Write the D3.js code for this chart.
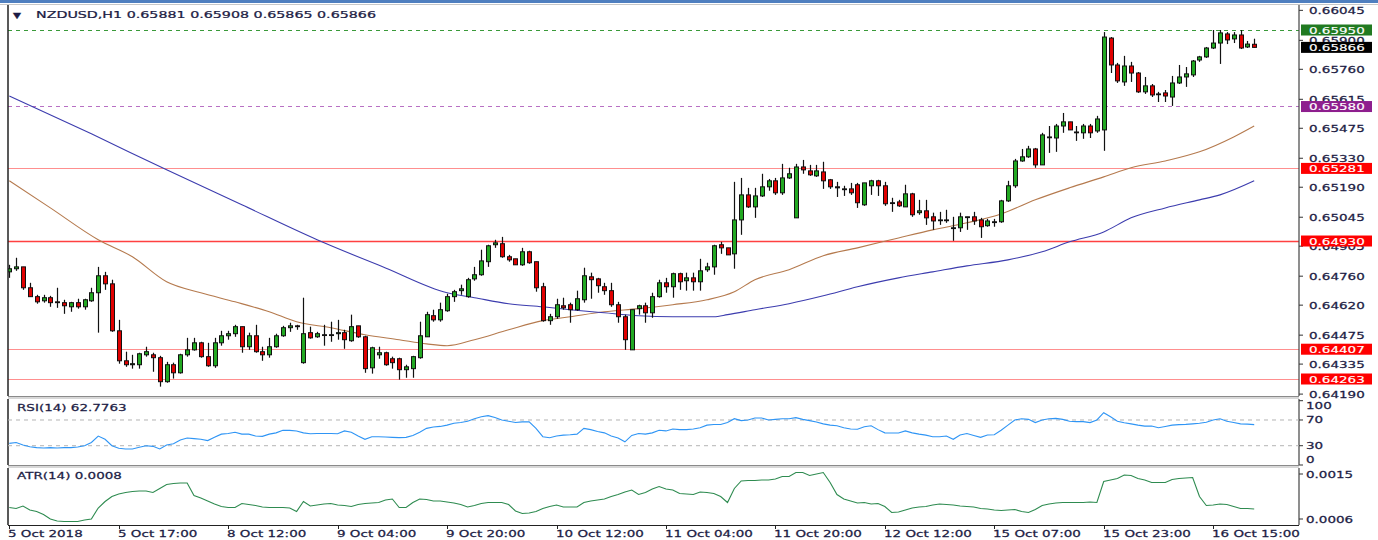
<!DOCTYPE html>
<html>
<head>
<meta charset="utf-8">
<script src="https://cdn.jsdelivr.net/npm/d3@7"></script>
<style>
  body { margin: 0; background: #fff; }
  svg text { font-family: "DejaVu Sans", Verdana, sans-serif; font-size: 9.5px; fill: #1c1c44; stroke: #1c1c44; stroke-width: 0.25px; }
</style>
</head>
<body>
<div id="chart"></div>
<script>
// NZDUSD H1 candles, bar 0 = 5 Oct 2018 01:00
const opens = [
  0.64781,0.64796,0.64805,0.64704,0.64661,0.64641,0.64656,0.64636,0.64632,0.64612,
  0.64632,0.64612,0.64641,0.64680,0.64762,0.64723,0.64496,0.64351,0.64332,0.64332,
  0.64380,0.64380,0.64366,0.64250,0.64332,0.64293,0.64380,0.64404,0.64438,0.64371,
  0.64327,0.64438,0.64472,0.64482,0.64516,0.64419,0.64472,0.64395,0.64380,0.64419,
  0.64472,0.64511,0.64520,0.64342,0.64487,0.64467,0.64477,0.64477,0.64482,0.64487,
  0.64448,0.64520,0.64467,0.64317,0.64380,0.64390,0.64361,0.64361,0.64308,0.64313,
  0.64366,0.64467,0.64569,0.64549,0.64593,0.64661,0.64690,0.64661,0.64747,0.64767,
  0.64830,0.64912,0.64917,0.64854,0.64844,0.64815,0.64878,0.64830,0.64709,0.64545,
  0.64564,0.64617,0.64622,0.64598,0.64646,0.64757,0.64747,0.64709,0.64690,0.64622,
  0.64564,0.64404,0.64603,0.64617,0.64583,0.64661,0.64728,0.64709,0.64772,0.64738,
  0.64752,0.64733,0.64791,0.64805,0.64912,0.64897,0.64868,0.65032,0.65153,0.65095,
  0.65148,0.65192,0.65221,0.65163,0.65235,0.65042,0.65288,0.65269,0.65245,0.65264,
  0.65226,0.65192,0.65182,0.65182,0.65202,0.65105,0.65197,0.65221,0.65197,0.65115,
  0.65119,0.65095,0.65158,0.65067,0.65076,0.65047,0.65032,0.65032,0.64994,0.64994,
  0.65047,0.65047,0.65032,0.65004,0.65023,0.65023,0.65124,0.65197,0.65317,0.65337,
  0.65375,0.65298,0.65433,0.65428,0.65486,0.65506,0.65457,0.65453,0.65486,0.65462,
  0.65467,0.65911,0.65781,0.65699,0.65776,0.65742,0.65651,0.65680,0.65641,0.65646,
  0.65626,0.65694,0.65723,0.65733,0.65805,0.65820,0.65863,0.65887,0.65931,0.65907,
  0.65926,0.65868,0.65881
];
const highs = [
  0.64815,0.64849,0.64805,0.64728,0.64670,0.64670,0.64665,0.64704,0.64646,0.64636,
  0.64651,0.64651,0.64704,0.64805,0.64781,0.64743,0.64549,0.64395,0.64380,0.64390,
  0.64419,0.64390,0.64375,0.64346,0.64342,0.64385,0.64462,0.64462,0.64443,0.64438,
  0.64462,0.64496,0.64496,0.64525,0.64516,0.64487,0.64525,0.64419,0.64462,0.64482,
  0.64520,0.64535,0.64525,0.64656,0.64516,0.64491,0.64525,0.64540,0.64549,0.64501,
  0.64574,0.64520,0.64472,0.64419,0.64419,0.64395,0.64371,0.64366,0.64332,0.64375,
  0.64540,0.64588,0.64598,0.64632,0.64675,0.64694,0.64719,0.64752,0.64805,0.64888,
  0.64912,0.64936,0.64950,0.64863,0.64844,0.64897,0.64883,0.64830,0.64728,0.64578,
  0.64651,0.64656,0.64632,0.64690,0.64801,0.64777,0.64752,0.64728,0.64728,0.64636,
  0.64574,0.64598,0.64622,0.64632,0.64680,0.64743,0.64752,0.64777,0.64777,0.64777,
  0.64777,0.64844,0.64825,0.64912,0.64926,0.64897,0.65216,0.65235,0.65187,0.65187,
  0.65255,0.65230,0.65235,0.65303,0.65284,0.65303,0.65322,0.65298,0.65298,0.65313,
  0.65230,0.65216,0.65197,0.65211,0.65211,0.65211,0.65226,0.65226,0.65216,0.65139,
  0.65129,0.65202,0.65163,0.65129,0.65129,0.65067,0.65071,0.65081,0.65047,0.65067,
  0.65047,0.65071,0.65042,0.65037,0.65037,0.65129,0.65221,0.65327,0.65375,0.65390,
  0.65380,0.65453,0.65486,0.65496,0.65549,0.65506,0.65486,0.65496,0.65496,0.65535,
  0.65940,0.65916,0.65791,0.65825,0.65796,0.65747,0.65723,0.65689,0.65651,0.65660,
  0.65728,0.65781,0.65771,0.65805,0.65825,0.65868,0.65950,0.65950,0.65940,0.65940,
  0.65950,0.65897,0.65908
];
const lows = [
  0.64752,0.64786,0.64694,0.64661,0.64627,0.64632,0.64612,0.64607,0.64578,0.64588,
  0.64603,0.64598,0.64636,0.64487,0.64694,0.64491,0.64337,0.64322,0.64313,0.64313,
  0.64371,0.64298,0.64226,0.64245,0.64265,0.64289,0.64371,0.64400,0.64366,0.64322,
  0.64317,0.64424,0.64453,0.64467,0.64390,0.64404,0.64390,0.64351,0.64366,0.64414,
  0.64467,0.64491,0.64501,0.64337,0.64458,0.64462,0.64424,0.64443,0.64453,0.64409,
  0.64443,0.64462,0.64293,0.64289,0.64361,0.64327,0.64313,0.64260,0.64269,0.64269,
  0.64361,0.64467,0.64540,0.64540,0.64588,0.64636,0.64670,0.64656,0.64738,0.64762,
  0.64805,0.64897,0.64849,0.64830,0.64815,0.64810,0.64820,0.64685,0.64540,0.64525,
  0.64554,0.64598,0.64535,0.64593,0.64632,0.64651,0.64680,0.64670,0.64612,0.64535,
  0.64404,0.64404,0.64574,0.64535,0.64559,0.64656,0.64680,0.64656,0.64694,0.64690,
  0.64690,0.64690,0.64781,0.64767,0.64868,0.64863,0.64796,0.64960,0.65090,0.65042,
  0.65143,0.65173,0.65153,0.65153,0.65230,0.65042,0.65255,0.65245,0.65240,0.65182,
  0.65182,0.65143,0.65148,0.65153,0.65090,0.65100,0.65153,0.65148,0.65100,0.65071,
  0.65095,0.65095,0.65047,0.65057,0.65008,0.64984,0.65008,0.65018,0.64931,0.64974,
  0.64984,0.65008,0.64945,0.64999,0.64999,0.65018,0.65119,0.65187,0.65313,0.65332,
  0.65284,0.65298,0.65356,0.65361,0.65453,0.65467,0.65414,0.65424,0.65428,0.65453,
  0.65366,0.65742,0.65694,0.65680,0.65699,0.65646,0.65641,0.65626,0.65602,0.65602,
  0.65583,0.65689,0.65675,0.65723,0.65796,0.65815,0.65858,0.65786,0.65882,0.65887,
  0.65858,0.65863,0.65865
];
const closes = [
  0.64796,0.64805,0.64704,0.64661,0.64636,0.64656,0.64632,0.64632,0.64617,0.64632,
  0.64612,0.64646,0.64680,0.64762,0.64723,0.64496,0.64351,0.64332,0.64337,0.64385,
  0.64395,0.64366,0.64250,0.64332,0.64293,0.64380,0.64404,0.64438,0.64371,0.64327,
  0.64438,0.64472,0.64482,0.64516,0.64419,0.64472,0.64395,0.64380,0.64419,0.64472,
  0.64511,0.64520,0.64516,0.64482,0.64462,0.64482,0.64477,0.64477,0.64487,0.64453,
  0.64516,0.64467,0.64313,0.64414,0.64390,0.64332,0.64342,0.64308,0.64322,0.64371,
  0.64472,0.64574,0.64549,0.64598,0.64661,0.64685,0.64699,0.64743,0.64767,0.64834,
  0.64907,0.64921,0.64854,0.64839,0.64815,0.64878,0.64825,0.64704,0.64545,0.64564,
  0.64622,0.64607,0.64598,0.64651,0.64762,0.64743,0.64714,0.64690,0.64622,0.64564,
  0.64453,0.64598,0.64617,0.64583,0.64661,0.64728,0.64709,0.64772,0.64733,0.64752,
  0.64733,0.64786,0.64805,0.64907,0.64897,0.64863,0.65032,0.65153,0.65095,0.65148,
  0.65192,0.65221,0.65163,0.65235,0.65255,0.65288,0.65274,0.65250,0.65269,0.65221,
  0.65192,0.65187,0.65182,0.65163,0.65115,0.65211,0.65221,0.65197,0.65110,0.65115,
  0.65100,0.65158,0.65057,0.65076,0.65042,0.65027,0.65032,0.65032,0.64994,0.65047,
  0.65047,0.65027,0.64999,0.65027,0.65023,0.65124,0.65197,0.65317,0.65337,0.65375,
  0.65298,0.65443,0.65433,0.65486,0.65506,0.65467,0.65457,0.65486,0.65453,0.65520,
  0.65916,0.65781,0.65704,0.65776,0.65742,0.65651,0.65680,0.65636,0.65641,0.65631,
  0.65694,0.65723,0.65738,0.65800,0.65820,0.65863,0.65887,0.65936,0.65902,0.65926,
  0.65863,0.65882,0.65866
];

const rsiValues = [
  33.7,35,31,28.5,27,26.5,27,26.5,27,27,
  28,30,35,45,40,30,26,25,25,27.5,
  30,29,25,31,33,39,42,41,40,38,
  43,48,49,51,48,48,45,44.6,48,50,
  53.9,53.9,53,50,48.7,49,49,49,48.7,53,
  51,45,40,44,44,43.5,43,42.5,43,46,
  51,57,59,60,62,65,66,68,72,75,
  76.7,74,70,68,66,67,67,57,44,42.5,
  45,46.5,47,48,57,55,52,50,45,42,
  36,46,49,48,50,54,53,56,55,55,
  56,58,62,63,63,66,72,69,70,73,
  73,70,71,72,72,73.6,71,69,67,64,
  62,61,58,56,55.5,59.6,61,55,50,49.8,
  49.8,53,50,48,46.5,44,44,45,40,46.7,
  49,46,43,46.7,47,54,62,70,72,71,
  66,70,72,72.5,71,68,67.5,67.4,66,70,
  81.4,75,68,65.8,64,62,60.5,60.7,58,60,
  62,62.8,63.2,64,65,66.5,70,72,68,66,
  64,63.5,62.7763
];
const atrValues = [
  0.00083,0.00081,0.00086,0.00078,0.00075,0.00069,0.00060,0.00056,0.00055,0.00055,
  0.00055,0.00058,0.00060,0.00082,0.00095,0.00105,0.00110,0.00113,0.00115,0.00116,
  0.00116,0.00113,0.00121,0.00129,0.00131,0.00132,0.00132,0.00107,0.00102,0.00096,
  0.00090,0.00085,0.00083,0.00083,0.00091,0.00089,0.00087,0.00084,0.00083,0.00083,
  0.00083,0.00082,0.00075,0.00095,0.00086,0.00088,0.00090,0.00091,0.00088,0.00087,
  0.00085,0.00089,0.00091,0.00092,0.00093,0.00098,0.00100,0.00083,0.00083,0.00093,
  0.00100,0.00099,0.00096,0.00096,0.00094,0.00092,0.00089,0.00084,0.00087,0.00091,
  0.00093,0.00093,0.00093,0.00089,0.00076,0.00071,0.00072,0.00075,0.00081,0.00085,
  0.00088,0.00084,0.00084,0.00084,0.00093,0.00096,0.00098,0.00100,0.00105,0.00109,
  0.00114,0.00118,0.00109,0.00113,0.00120,0.00125,0.00120,0.00118,0.00111,0.00110,
  0.00109,0.00114,0.00113,0.00111,0.00105,0.00093,0.00121,0.00136,0.00137,0.00137,
  0.00138,0.00138,0.00140,0.00145,0.00145,0.00153,0.00153,0.00147,0.00150,0.00153,
  0.00133,0.00109,0.00100,0.00096,0.00092,0.00093,0.00090,0.00091,0.00085,0.00073,
  0.00074,0.00078,0.00082,0.00084,0.00085,0.00088,0.00090,0.00089,0.00088,0.00086,
  0.00085,0.00084,0.00081,0.00080,0.00078,0.00077,0.00078,0.00079,0.00075,0.00073,
  0.00079,0.00087,0.00090,0.00092,0.00093,0.00093,0.00093,0.00093,0.00094,0.00093,
  0.00135,0.00138,0.00141,0.00148,0.00147,0.00141,0.00138,0.00133,0.00133,0.00133,
  0.00139,0.00141,0.00142,0.00143,0.00105,0.00087,0.00088,0.00090,0.00089,0.00085,
  0.00081,0.00081,0.00080
];

// moving averages at these bars
const maBlueBars = [0,12,23,34,45,55,64,68,73,78,82,87,92,97,103,105,109,114,119,124,130,135,140,146,151,155,160,164,169,174,177,182];
const maBlueValues = [0.65631,0.65448,0.65274,0.65105,0.64936,0.64800,0.64680,0.64656,0.64627,0.64612,
  0.64598,0.64583,0.64569,0.64564,0.64564,0.64574,0.64598,0.64627,0.64665,0.64709,
  0.64752,0.64781,0.64810,0.64839,0.64878,0.64926,0.64974,0.65042,0.65090,0.65129,
  0.65153,0.65221];
const maBrownBars = [0,6,13,18,23,28,33,38,42,47,52,57,61,64,68,73,78,82,87,92,97,102,106,109,114,119,124,130,135,140,145,150,155,160,164,169,174,179,182];
const maBrownValues = [0.65221,0.65090,0.64936,0.64854,0.64733,0.64680,0.64636,0.64588,0.64540,0.64511,
  0.64477,0.64453,0.64433,0.64424,0.64453,0.64501,0.64545,0.64564,0.64588,0.64603,
  0.64622,0.64646,0.64685,0.64743,0.64791,0.64859,0.64897,0.64945,0.64984,0.65018,
  0.65061,0.65129,0.65187,0.65240,0.65284,0.65317,0.65361,0.65433,0.65486];

const priceTicks = ['0.66045','0.65900','0.65760','0.65615','0.65475','0.65330','0.65190','0.65045','0.64905','0.64760','0.64620','0.64475','0.64335','0.64190'];
const timeLabels = ['5 Oct 2018','5 Oct 17:00','8 Oct 12:00','9 Oct 04:00','9 Oct 20:00','10 Oct 12:00','11 Oct 04:00','11 Oct 20:00','12 Oct 12:00','15 Oct 07:00','15 Oct 23:00','16 Oct 15:00'];
const redLevels = [0.65281, 0.64930, 0.64407, 0.64263];
const resistLevel = 0.65950, supportLevel = 0.65580;
const rsiTicks = [100, 70, 30, 0];
const atrTicks = ['0.0015', '0.0006'];

const W = 1378, H = 540;
const left = 8, right = 1299;
const main = {top: 5, bottom: 396}, rsiP = {top: 399, bottom: 465}, atrP = {top: 468, bottom: 525};
const sx = 1.42; // screenshot is stretched horizontally

let svg = d3.select('#chart').append('svg')
    .attr('width', W)
    .attr('height', H);

let x = d3.scaleLinear().domain([0, 182]).range([9.3, 1254.2]);
let y = d3.scaleLinear().domain([0.64263, 0.65950]).range([379, 30]);
let yRsi = d3.scaleLinear().domain([0, 100]).range([465, 400.7]);
let yAtr = d3.scaleLinear().domain([0.0006, 0.0015]).range([519, 474]);

function label(g, px, py, s, k) {
    return g.append('text')
        .attr('transform', `translate(${px},${py}) scale(${k || sx},1)`)
        .text(s);
}

// window chrome
svg.append('rect').attr('x', 0).attr('y', 0).attr('width', W).attr('height', 3).attr('fill', '#4f7fbf');
svg.append('line').attr('x1', 0).attr('x2', W).attr('y1', 4.5).attr('y2', 4.5).attr('stroke', '#c8c8c8');

let defs = svg.append('defs');
defs.append('clipPath').attr('id', 'clipMain')
    .append('rect').attr('x', left).attr('y', main.top).attr('width', right - left).attr('height', main.bottom - main.top);

let plot = svg.append('g').attr('clip-path', 'url(#clipMain)');

// horizontal levels
plot.selectAll('.lvl')
    .data(redLevels)
    .join('line')
    .attr('class', 'lvl')
    .attr('x1', left).attr('x2', right)
    .attr('y1', d => Math.round(y(d)) + 0.5).attr('y2', d => Math.round(y(d)) + 0.5)
    .attr('stroke', '#ff2020')
    .attr('stroke-opacity', d => d === 0.64930 ? 0.85 : 0.5)
    .attr('stroke-width', d => d === 0.64930 ? 1.6 : 1.2);

plot.append('line')
    .attr('x1', left).attr('x2', right)
    .attr('y1', Math.round(y(resistLevel)) + 0.5).attr('y2', Math.round(y(resistLevel)) + 0.5)
    .attr('stroke', '#3a9a3a').attr('stroke-dasharray', '4,4');
plot.append('line')
    .attr('x1', left).attr('x2', right)
    .attr('y1', Math.round(y(supportLevel)) - 0.5).attr('y2', Math.round(y(supportLevel)) - 0.5)
    .attr('stroke', '#b870c4').attr('stroke-dasharray', '4,4');

// moving averages
let maLine = d3.line().x(d => x(d[0])).y(d => y(d[1])).curve(d3.curveMonotoneX);
plot.append('path')
    .datum(maBrownBars.map((b, i) => [b, maBrownValues[i]]))
    .attr('d', maLine)
    .attr('fill', 'none')
    .attr('stroke', '#b57a4e')
    .attr('stroke-width', 1.1);
plot.append('path')
    .datum(maBlueBars.map((b, i) => [b, maBlueValues[i]]))
    .attr('d', maLine)
    .attr('fill', 'none')
    .attr('stroke', '#3c3cae')
    .attr('stroke-width', 1.1);

// candles
let bars = opens.map((o, i) => ({i: i, o: o, h: highs[i], l: lows[i], c: closes[i]}));

let candle_g = plot.append('g').attr('class', 'candles');
candle_g.selectAll('.wick')
    .data(bars)
    .join('line')
    .attr('class', 'wick')
    .attr('x1', d => Math.round(x(d.i)) + 0.5).attr('x2', d => Math.round(x(d.i)) + 0.5)
    .attr('y1', d => y(d.h)).attr('y2', d => y(d.l))
    .attr('stroke', '#111')
    .attr('stroke-width', 1.2);

candle_g.selectAll('.body')
    .data(bars)
    .join('rect')
    .attr('class', 'body')
    .attr('x', d => Math.round(x(d.i)) - 1.5)
    .attr('y', d => y(Math.max(d.o, d.c)))
    .attr('width', 4)
    .attr('height', d => Math.max(0.8, Math.abs(y(d.o) - y(d.c))))
    .attr('fill', d => d.c > d.o ? '#22a822' : (d.c < d.o ? '#e00000' : '#111'))
    .attr('stroke', '#111')
    .attr('stroke-width', 1);

// title
label(svg, 13, 18, '\u25BC', 1.3).style('font-size', '8px');
label(svg, 36, 18, 'NZDUSD,H1  0.65881 0.65908 0.65865 0.65866', 1.5);

// panel frames
function frame(p) {
    svg.append('line').attr('x1', left).attr('x2', left).attr('y1', p.top).attr('y2', p.bottom).attr('stroke', '#222').attr('stroke-width', 1.5);
    svg.append('line').attr('x1', right).attr('x2', right).attr('y1', p.top).attr('y2', p.bottom).attr('stroke', '#444').attr('stroke-width', 1.2);
}
frame(main); frame(rsiP); frame(atrP);
[[main.bottom, rsiP.top], [rsiP.bottom, atrP.top]].forEach(([a, b]) => {
    svg.append('line').attr('x1', left).attr('x2', right).attr('y1', a + 0.5).attr('y2', a + 0.5).attr('stroke', '#8a8a8a');
    svg.append('line').attr('x1', left).attr('x2', right).attr('y1', b - 1).attr('y2', b - 1).attr('stroke', '#b0b0b0');
});
svg.append('line').attr('x1', left).attr('x2', right).attr('y1', atrP.bottom + 0.5).attr('y2', atrP.bottom + 0.5).attr('stroke', '#222');

// price axis (some labels sit under the tags, as in the terminal)
let axis_g = svg.append('g');
priceTicks.forEach(t => {
    let py = y(+t);
    axis_g.append('line').attr('x1', right).attr('x2', right + 4).attr('y1', py).attr('y2', py).attr('stroke', '#333');
    label(axis_g, 1309, py + 3.5, t);
});

// price tags
let tags = [
    {v: resistLevel, c: '#217a21'},
    {v: closes[closes.length - 1], c: '#000000'},
    {v: supportLevel, c: '#8e1e8e'},
    {v: redLevels[0], c: '#ff0000'},
    {v: redLevels[1], c: '#ff0000'},
    {v: redLevels[2], c: '#ff0000'},
    {v: redLevels[3], c: '#ff0000'}
];
tags.forEach(t => {
    let py = y(t.v);
    svg.append('rect').attr('x', 1301).attr('y', py - 5.5).attr('width', 71).attr('height', 11).attr('fill', t.c);
    label(svg, 1309, py + 3.5, t.v.toFixed(5)).style('fill', '#fff').style('stroke', '#fff').style('stroke-width', '0.15px');
});

// RSI panel
let rsi_g = svg.append('g');
[70, 30].forEach(v => {
    rsi_g.append('line').attr('x1', left).attr('x2', right).attr('y1', yRsi(v)).attr('y2', yRsi(v))
        .attr('stroke', '#b4b4b4').attr('stroke-dasharray', '4,4');
});
rsi_g.append('path')
    .datum(rsiValues)
    .attr('d', d3.line().x((d, i) => x(i)).y(d => yRsi(d)))
    .attr('fill', 'none')
    .attr('stroke', '#2f95f5')
    .attr('stroke-width', 1.1);
label(rsi_g, 17, 411, 'RSI(14) 62.7763');
rsiTicks.forEach(v => {
    let py = v === 100 ? 405 : (v === 0 ? 459 : yRsi(v));
    rsi_g.append('line').attr('x1', right).attr('x2', right + 4).attr('y1', yRsi(v)).attr('y2', yRsi(v)).attr('stroke', '#333');
    label(rsi_g, 1306, py + 3.5, String(v));
});

// ATR panel
let atr_g = svg.append('g');
atr_g.append('path')
    .datum(atrValues)
    .attr('d', d3.line().x((d, i) => x(i)).y(d => yAtr(d)))
    .attr('fill', 'none')
    .attr('stroke', '#2e8b50')
    .attr('stroke-width', 1.1);
label(atr_g, 17, 479, 'ATR(14) 0.0008');
atrTicks.forEach(t => {
    let py = yAtr(+t);
    atr_g.append('line').attr('x1', right).attr('x2', right + 4).attr('y1', py).attr('y2', py).attr('stroke', '#333');
    label(atr_g, 1306, py + 3.5, t);
});

// time axis
let time_g = svg.append('g');
timeLabels.forEach((t, k) => {
    let px = Math.round(x(k * 16)) + 0.5;
    time_g.append('line').attr('x1', px).attr('x2', px).attr('y1', atrP.bottom).attr('y2', atrP.bottom + 4).attr('stroke', '#222');
    label(time_g, px - 1.5, 537, t);
});
</script>
</body>
</html>
